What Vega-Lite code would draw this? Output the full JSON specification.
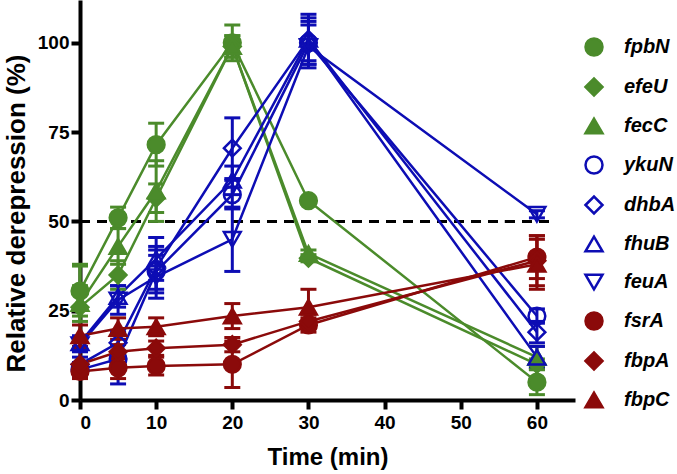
{
  "$schema": "https://vega.github.io/schema/vega-lite/v6.json",
  "autosize": {"type": "none"},
  "width": 495,
  "height": 400,
  "padding": {"left": 80, "top": 0, "right": 102, "bottom": 74},
  "background": "white",
  "config": {
    "view": {"stroke": null},
    "axis": {
      "domainColor": "black", "domainWidth": 4, "tickColor": "black", "tickWidth": 4, "tickSize": 9,
      "grid": false, "labelFont": "Liberation Sans", "labelFontWeight": "bold", "labelFontSize": 19, "labelColor": "black",
      "titleFont": "Liberation Sans", "titleFontWeight": "bold", "titleFontSize": 24, "titleColor": "black"
    },
    "legend": {
      "orient": "none", "legendX": 504, "legendY": 37, "title": null, "padding": 0,
      "labelFont": "Liberation Sans", "labelFontWeight": "bold", "labelFontStyle": "italic", "labelFontSize": 20, "labelColor": "black",
      "symbolSize": 289, "symbolStrokeWidth": 2.5, "rowPadding": 12, "labelOffset": 20
    }
  },
  "data": {
    "values": [
      {"gene": "fpbN", "time": 0, "val": 30.5, "lo": 23.5, "hi": 37.5},
      {"gene": "fpbN", "time": 5, "val": 51, "lo": 48, "hi": 54},
      {"gene": "fpbN", "time": 10, "val": 71.5, "lo": 65.5, "hi": 77.5},
      {"gene": "fpbN", "time": 20, "val": 100, "lo": 95, "hi": 105},
      {"gene": "fpbN", "time": 30, "val": 55.8, "lo": 54.8, "hi": 56.8},
      {"gene": "fpbN", "time": 60, "val": 5, "lo": 1.5, "hi": 8.5},
      {"gene": "efeU", "time": 0, "val": 26, "lo": 14, "hi": 38},
      {"gene": "efeU", "time": 5, "val": 35, "lo": 31, "hi": 39},
      {"gene": "efeU", "time": 10, "val": 56.5, "lo": 52.5, "hi": 60.5},
      {"gene": "efeU", "time": 20, "val": 99, "lo": 96, "hi": 102},
      {"gene": "efeU", "time": 30, "val": 39.7, "lo": 38.7, "hi": 40.7},
      {"gene": "efeU", "time": 60, "val": 10, "lo": 8.5, "hi": 11.5},
      {"gene": "fecC", "time": 0, "val": 27, "lo": 22, "hi": 32},
      {"gene": "fecC", "time": 5, "val": 43, "lo": 38, "hi": 48},
      {"gene": "fecC", "time": 10, "val": 58.5, "lo": 50, "hi": 67},
      {"gene": "fecC", "time": 20, "val": 99, "lo": 96, "hi": 102},
      {"gene": "fecC", "time": 30, "val": 41, "lo": 40, "hi": 42},
      {"gene": "fecC", "time": 60, "val": 12, "lo": 9, "hi": 15},
      {"gene": "ykuN", "time": 0, "val": 8.5, "lo": 6.5, "hi": 10.5},
      {"gene": "ykuN", "time": 5, "val": 11.5, "lo": 4.5, "hi": 18.5},
      {"gene": "ykuN", "time": 10, "val": 36, "lo": 30, "hi": 42},
      {"gene": "ykuN", "time": 20, "val": 57.5, "lo": 53.5, "hi": 61.5},
      {"gene": "ykuN", "time": 30, "val": 100, "lo": 94, "hi": 106},
      {"gene": "ykuN", "time": 60, "val": 23.5, "lo": 21.5, "hi": 25.5},
      {"gene": "dhbA", "time": 0, "val": 10, "lo": 8, "hi": 12},
      {"gene": "dhbA", "time": 5, "val": 16, "lo": 13, "hi": 19},
      {"gene": "dhbA", "time": 10, "val": 37, "lo": 31, "hi": 43},
      {"gene": "dhbA", "time": 20, "val": 70.5, "lo": 62, "hi": 79},
      {"gene": "dhbA", "time": 30, "val": 101, "lo": 94, "hi": 108},
      {"gene": "dhbA", "time": 60, "val": 19, "lo": 16, "hi": 22},
      {"gene": "fhuB", "time": 0, "val": 16, "lo": 14, "hi": 18},
      {"gene": "fhuB", "time": 5, "val": 29, "lo": 26, "hi": 32},
      {"gene": "fhuB", "time": 10, "val": 39.5, "lo": 33.5, "hi": 45.5},
      {"gene": "fhuB", "time": 20, "val": 61.5, "lo": 57.5, "hi": 65.5},
      {"gene": "fhuB", "time": 30, "val": 101, "lo": 95, "hi": 107},
      {"gene": "fhuB", "time": 60, "val": 12, "lo": 9, "hi": 15},
      {"gene": "feuA", "time": 0, "val": 15.5, "lo": 13.5, "hi": 17.5},
      {"gene": "feuA", "time": 5, "val": 28, "lo": 24, "hi": 32},
      {"gene": "feuA", "time": 10, "val": 34.5, "lo": 28.5, "hi": 40.5},
      {"gene": "feuA", "time": 20, "val": 45, "lo": 36, "hi": 54},
      {"gene": "feuA", "time": 30, "val": 99, "lo": 93, "hi": 105},
      {"gene": "feuA", "time": 60, "val": 52, "lo": 51, "hi": 53},
      {"gene": "fsrA", "time": 0, "val": 8, "lo": 7, "hi": 9},
      {"gene": "fsrA", "time": 5, "val": 9, "lo": 6, "hi": 12},
      {"gene": "fsrA", "time": 10, "val": 9.5, "lo": 7, "hi": 12},
      {"gene": "fsrA", "time": 20, "val": 10, "lo": 3.5, "hi": 16.5},
      {"gene": "fsrA", "time": 30, "val": 21, "lo": 19, "hi": 23},
      {"gene": "fsrA", "time": 60, "val": 40, "lo": 34, "hi": 46},
      {"gene": "fbpA", "time": 0, "val": 10, "lo": 6, "hi": 14.5},
      {"gene": "fbpA", "time": 5, "val": 13.5, "lo": 11.5, "hi": 15.5},
      {"gene": "fbpA", "time": 10, "val": 14.5, "lo": 12.5, "hi": 16.5},
      {"gene": "fbpA", "time": 20, "val": 15.5, "lo": 13.5, "hi": 17.5},
      {"gene": "fbpA", "time": 30, "val": 22, "lo": 20, "hi": 24},
      {"gene": "fbpA", "time": 60, "val": 39, "lo": 32, "hi": 46},
      {"gene": "fbpC", "time": 0, "val": 18, "lo": 15, "hi": 21},
      {"gene": "fbpC", "time": 5, "val": 20, "lo": 17, "hi": 23},
      {"gene": "fbpC", "time": 10, "val": 20.5, "lo": 18, "hi": 23},
      {"gene": "fbpC", "time": 20, "val": 23.5, "lo": 20, "hi": 27},
      {"gene": "fbpC", "time": 30, "val": 26, "lo": 21, "hi": 31},
      {"gene": "fbpC", "time": 60, "val": 38, "lo": 31, "hi": 45}
    ]
  },
  "encoding": {
    "x": {"field": "time", "type": "quantitative", "scale": {"domain": [0, 65], "nice": false}, "axis": {"values": [0, 10, 20, 30, 40, 50, 60], "title": "Time (min)", "titlePadding": 13, "labelPadding": 4}},
    "y": {"field": "val", "type": "quantitative", "scale": {"domain": [0, 112], "nice": false}, "axis": {"values": [0, 25, 50, 75, 100], "title": "Relative derepression (%)", "titleFontSize": 26, "titleY": 213, "titlePadding": 8, "labelPadding": 2}}
  },
  "layer": [
    {
      "mark": {"type": "rule", "strokeDash": [10, 7], "strokeWidth": 3, "color": "black"},
      "encoding": {"y": {"datum": 50, "type": "quantitative"}, "x": {"datum": 0, "type": "quantitative"}, "x2": {"datum": 62}}
    },
    {
      "mark": {"type": "line", "strokeWidth": 2.5},
      "encoding": {
        "color": {"field": "gene", "type": "nominal", "legend": null,
          "scale": {"domain": ["fbpC", "fbpA", "fsrA", "feuA", "fhuB", "dhbA", "ykuN", "fecC", "efeU", "fpbN"],
            "range": ["#8b0a0a", "#8b0a0a", "#8b0a0a", "#0d0db4", "#0d0db4", "#0d0db4", "#0d0db4", "#4b8b2b", "#4b8b2b", "#4b8b2b"]}},
        "detail": {"field": "gene"}
      }
    },
    {
      "mark": {"type": "rule", "strokeWidth": 3},
      "encoding": {
        "y": {"field": "lo", "type": "quantitative"},
        "y2": {"field": "hi"},
        "color": {"field": "gene", "type": "nominal", "legend": null}
      }
    },
    {
      "mark": {"type": "tick", "orient": "horizontal", "thickness": 3, "size": 16, "opacity": 1},
      "encoding": {
        "y": {"field": "lo", "type": "quantitative"},
        "color": {"field": "gene", "type": "nominal", "legend": null}
      }
    },
    {
      "mark": {"type": "tick", "orient": "horizontal", "thickness": 3, "size": 16, "opacity": 1},
      "encoding": {
        "y": {"field": "hi", "type": "quantitative"},
        "color": {"field": "gene", "type": "nominal", "legend": null}
      }
    },
    {
      "mark": {"type": "point", "size": 280, "strokeWidth": 2.5, "opacity": 1},
      "encoding": {
        "shape": {"field": "gene", "type": "nominal",
          "scale": {"domain": ["fpbN", "efeU", "fecC", "ykuN", "dhbA", "fhuB", "feuA", "fsrA", "fbpA", "fbpC"],
            "range": ["circle", "diamond", "triangle-up", "circle", "diamond", "triangle-up", "triangle-down", "circle", "diamond", "triangle-up"]},
          "legend": {"encode": {"symbols": {"update": {"shape": {"signal": "scale('shape', datum.value) === 'circle' ? 'M1,0A1,1,0,1,1,-1,0A1,1,0,1,1,1,0ZM-1.7,0L1.7,0' : scale('shape', datum.value) === 'diamond' ? 'M-1,0L0,-1L1,0L0,1ZM-1.7,0L1.7,0' : scale('shape', datum.value) === 'triangle-up' ? 'M-1.1,0.85L0,-1L1.1,0.85ZM-1.7,0L1.7,0' : 'M-1.1,-0.85L0,1L1.1,-0.85ZM-1.7,0L1.7,0'"}}}}}},
        "fill": {"field": "gene", "type": "nominal",
          "scale": {"domain": ["fpbN", "efeU", "fecC", "ykuN", "dhbA", "fhuB", "feuA", "fsrA", "fbpA", "fbpC"],
            "range": ["#4b8b2b", "#4b8b2b", "#4b8b2b", "transparent", "transparent", "transparent", "transparent", "#8b0a0a", "#8b0a0a", "#8b0a0a"]},
          "legend": {"encode": {"symbols": {"update": {"shape": {"signal": "scale('shape', datum.value) === 'circle' ? 'M1,0A1,1,0,1,1,-1,0A1,1,0,1,1,1,0ZM-1.7,0L1.7,0' : scale('shape', datum.value) === 'diamond' ? 'M-1,0L0,-1L1,0L0,1ZM-1.7,0L1.7,0' : scale('shape', datum.value) === 'triangle-up' ? 'M-1.1,0.85L0,-1L1.1,0.85ZM-1.7,0L1.7,0' : 'M-1.1,-0.85L0,1L1.1,-0.85ZM-1.7,0L1.7,0'"}}}}}},
        "stroke": {"field": "gene", "type": "nominal",
          "scale": {"domain": ["fpbN", "efeU", "fecC", "ykuN", "dhbA", "fhuB", "feuA", "fsrA", "fbpA", "fbpC"],
            "range": ["#4b8b2b", "#4b8b2b", "#4b8b2b", "#0d0db4", "#0d0db4", "#0d0db4", "#0d0db4", "#8b0a0a", "#8b0a0a", "#8b0a0a"]},
          "legend": {"encode": {"symbols": {"update": {"shape": {"signal": "scale('shape', datum.value) === 'circle' ? 'M1,0A1,1,0,1,1,-1,0A1,1,0,1,1,1,0ZM-1.7,0L1.7,0' : scale('shape', datum.value) === 'diamond' ? 'M-1,0L0,-1L1,0L0,1ZM-1.7,0L1.7,0' : scale('shape', datum.value) === 'triangle-up' ? 'M-1.1,0.85L0,-1L1.1,0.85ZM-1.7,0L1.7,0' : 'M-1.1,-0.85L0,1L1.1,-0.85ZM-1.7,0L1.7,0'"}}}}}}
      }
    }
  ]
}
